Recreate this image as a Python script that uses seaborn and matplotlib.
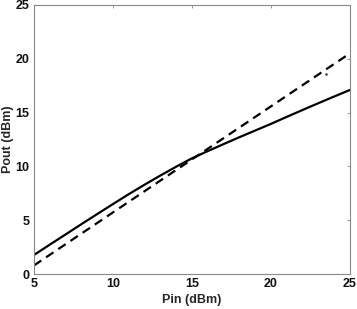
import numpy as np
import pandas as pd
import matplotlib
matplotlib.use("Agg")
import matplotlib.pyplot as plt
import seaborn as sns

# values
pin = [5, 6, 7, 8, 9, 10, 11, 12, 13, 14, 15,
       16, 17, 18, 19, 20, 21, 22, 23, 24, 25]
pout_sim = [1.77, 2.73, 3.68, 4.63, 5.57, 6.5, 7.42, 8.3, 9.15, 9.97, 10.75,
            11.42, 12.07, 12.71, 13.33, 13.95, 14.6, 15.24, 15.87, 16.49, 17.1]
pin_lin = [5, 25]
pout_lin = [0.8, 20.5]
pt_x = [23.5]
pt_y = [18.6]

sns.set_style("white")
plt.rcParams['font.family'] = ['Liberation Sans', 'DejaVu Sans']

fig = plt.figure(figsize=(3.57, 3.09), dpi=100)
ax = fig.add_axes([0.095, 0.113, 0.885, 0.871])

sns.lineplot(x=pin, y=pout_sim, ax=ax, color="black", linewidth=1.6)
sns.lineplot(x=pin_lin, y=pout_lin, ax=ax, color="black", linewidth=1.6,
             linestyle=(0, (4, 2.6)))
sns.scatterplot(x=pt_x, y=pt_y, ax=ax, color="#3030c0", s=3, edgecolor=None)

ax.set_xlim(5, 25)
ax.set_ylim(0, 25)
ax.set_xticks([5, 10, 15, 20, 25])
ax.set_yticks([0, 5, 10, 15, 20, 25])
ax.set_xlabel("Pin (dBm)", fontsize=9, fontweight="bold", labelpad=3)
ax.set_ylabel("Pout (dBm)", fontsize=9, fontweight="bold", labelpad=1)
ax.tick_params(direction="in", length=2.5, width=0.6, color="#888888",
               top=True, right=True, labelsize=9, labelcolor="#111111", pad=3)
for lab in ax.get_xticklabels() + ax.get_yticklabels():
    lab.set_fontweight("bold")
for s in ax.spines.values():
    s.set_color("#888888")
    s.set_linewidth(0.8)

fig.savefig("out.png", dpi=100)
